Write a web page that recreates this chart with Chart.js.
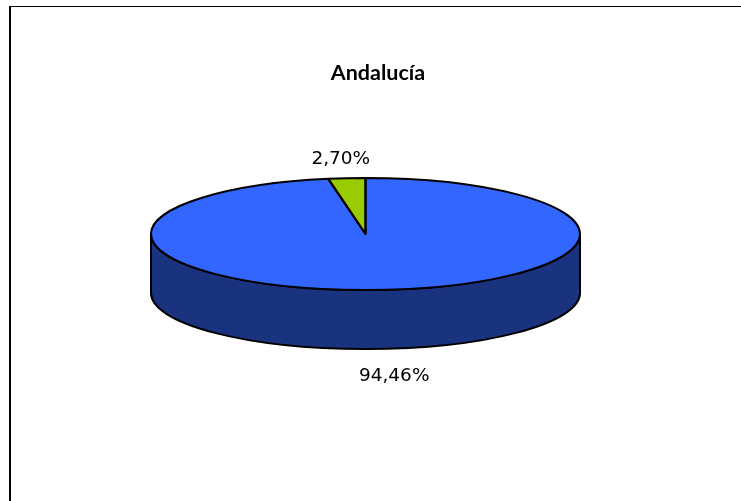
<!DOCTYPE html>
<html><head><meta charset="utf-8">
<style>html,body{margin:0;padding:0;background:#fff;overflow:hidden}
#wrap{position:relative;width:741px;height:501px}
#frame{position:absolute;left:9px;top:6px;width:740px;height:500px;border:1px solid #000;border-left-width:2px;box-sizing:border-box}
canvas{position:absolute;left:0;top:0}</style>
<script src="https://cdn.jsdelivr.net/npm/chart.js@4"></script>
</head><body><div id="wrap"><div id="frame"></div><canvas id="c" width="741" height="501"></canvas></div>
<script>
const titleText = 'Andalucía';
const categories = ['Mayor', 'Menor'];
const seriesValues = [94.46, 2.70];
const valueLabels = ['94,46%', '2,70%'];
const topColors = ['#3366FF', '#99CC00'];
const sideColors = ['#19337F', '#4D6600'];

const CX = 365.5, CY = 234, RX = 214.5, RY = 56, DEPTH = 59;
const SY = RY / RX;
const labelNudge = [[10, 27], [-6, -19]];

function lift(ctx, arc) {
  ctx.translate(CX, CY);
  ctx.scale(1, SY);
  ctx.translate(-arc.x, -arc.y);
}
const pie3d = {
  id: 'pie3d',
  beforeDatasetsDraw(chart) {
    const ctx = chart.ctx, arcs = chart.getDatasetMeta(0).data;
    arcs.forEach((arc, i) => {
      const a0 = Math.max(arc.startAngle, 0), a1 = Math.min(arc.endAngle, Math.PI);
      if (a1 <= a0) return;
      ctx.save();
      ctx.beginPath();
      ctx.ellipse(CX, CY, RX, RY, 0, a0, a1);
      ctx.ellipse(CX, CY + DEPTH, RX, RY, 0, a1, a0, true);
      ctx.closePath();
      ctx.fillStyle = sideColors[i];
      ctx.fill();
      ctx.strokeStyle = '#000'; ctx.lineWidth = 2; ctx.lineJoin = 'round';
      ctx.stroke();
      ctx.restore();
    });
    ctx.save();
    lift(ctx, arcs[0]);
  },
  afterDatasetsDraw(chart) {
    const ctx = chart.ctx, arcs = chart.getDatasetMeta(0).data;
    ctx.restore();
    ctx.save();
    ctx.strokeStyle = '#000'; ctx.lineWidth = 2; ctx.lineJoin = 'round';
    arcs.forEach(arc => {
      ctx.beginPath();
      ctx.moveTo(CX, CY);
      ctx.ellipse(CX, CY, RX, RY, 0, arc.startAngle, arc.endAngle);
      ctx.closePath();
      ctx.stroke();
    });
    ctx.fillStyle = '#000';
    ctx.font = '18.5px "DejaVu Sans"';
    ctx.textAlign = 'center'; ctx.textBaseline = 'middle';
    arcs.forEach((arc, i) => {
      const mid = (arc.startAngle + arc.endAngle) / 2;
      const x = CX + RX * Math.cos(mid) + labelNudge[i][0];
      const below = Math.sin(mid) > 0;
      const y = CY + RY * Math.sin(mid) + (below ? DEPTH : 0) + labelNudge[i][1];
      ctx.fillText(valueLabels[i], x, y);
    });
    ctx.restore();
  }
};

new Chart(document.getElementById('c'), {
  type: 'pie',
  data: { labels: categories, datasets: [{ data: seriesValues, backgroundColor: topColors, borderWidth: 0, radius: RX }] },
  options: {
    responsive: false, animation: false,
    layout: { padding: { left: 15 } },
    plugins: {
      legend: { display: false }, tooltip: { enabled: false },
      title: { display: true, text: titleText, color: '#000',
        font: { family: 'Lato', size: 21.5, weight: 'bold' },
        padding: { top: 60, bottom: 0 } }
    }
  },
  plugins: [pie3d]
});
</script></body></html>
